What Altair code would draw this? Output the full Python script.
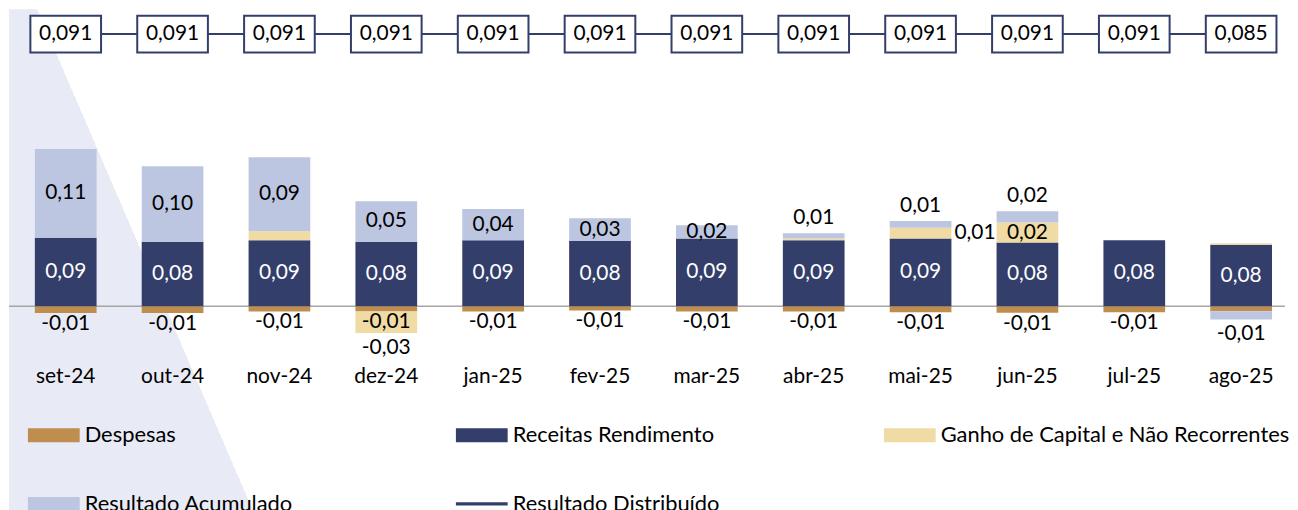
import altair as alt
import pandas as pd

# ---------------- data ----------------
categorias = ["set-24", "out-24", "nov-24", "dez-24", "jan-25", "fev-25",
              "mar-25", "abr-25", "mai-25", "jun-25", "jul-25", "ago-25"]
despesas = [-0.0087, -0.0087, -0.0066, -0.0066, -0.0066, -0.0054,
            -0.0066, -0.0066, -0.0077, -0.0084, -0.0077, -0.0064]
receitas = [0.088, 0.083, 0.085, 0.083, 0.085, 0.084,
            0.087, 0.085, 0.087, 0.082, 0.085, 0.079]
ganho = [0.0, 0.0, 0.0115, -0.0276, 0.0, 0.0,
         0.0, 0.002, 0.014, 0.0256, 0.0, 0.002]
acumulado = [0.114, 0.097, 0.095, 0.052, 0.040, 0.029,
             0.017, 0.007, 0.0086, 0.0146, 0.0, -0.0106]
distribuido = [0.091, 0.091, 0.091, 0.091, 0.091, 0.091,
               0.091, 0.091, 0.091, 0.091, 0.091, 0.085]

rot_despesas = ["-0,01", "-0,01", "-0,01", "-0,01", "-0,01", "-0,01",
                "-0,01", "-0,01", "-0,01", "-0,01", "-0,01", ""]
rot_receitas = ["0,09", "0,08", "0,09", "0,08", "0,09", "0,08",
                "0,09", "0,09", "0,09", "0,08", "0,08", "0,08"]
rot_ganho = ["", "", "", "-0,03", "", "",
             "", "", "0,01", "0,02", "", ""]
rot_acumulado = ["0,11", "0,10", "0,09", "0,05", "0,04", "0,03",
                 "0,02", "0,01", "0,01", "0,02", "", "-0,01"]

series = ["Despesas", "Receitas Rendimento", "Ganho de Capital e Não Recorrentes",
          "Resultado Acumulado", "Resultado Distribuído"]
cores = ["#BF8D4E", "#333E6B", "#F1DBA4", "#BCC6E0", "#333E6B"]

# ---------------- styling ----------------
NAVY = "#333E6B"
LAV = "#E8EBF5"
FONT = "Lato"
FS = 21
W = 1282
H_TOP = 50
H_BOT = 462

valores = dict(zip(series[:4], [despesas, receitas, ganho, acumulado]))
rotulos = dict(zip(series[:4], [rot_despesas, rot_receitas, rot_ganho, rot_acumulado]))

rows, labs = [], []
for i, cat in enumerate(categorias):
    pos = neg = 0.0
    for s in series[:4]:
        v = valores[s][i]
        if v == 0:
            continue
        if v > 0:
            y0, y1 = pos, pos + v
            pos = y1
        else:
            y0, y1 = neg, neg + v
            neg = y1
        rows.append(dict(cat=cat, serie=s, y0=y0, y1=y1))
        txt = rotulos[s][i]
        if not txt:
            continue
        lo, hi = min(y0, y1), max(y0, y1)
        mid = (lo + hi) / 2
        if v < 0:
            tipo, ly = ("below_d" if s == series[0] else "below"), lo
        elif s == series[1]:
            tipo, ly = "inside_w", mid
        elif s == series[2]:
            tipo, ly = ("inside", mid) if v >= 0.02 else ("right", mid)
        else:
            tipo, ly = ("inside", mid) if v >= 0.016 else ("above", hi)
        labs.append(dict(cat=cat, texto=txt, ly=ly, tipo=tipo))

df = pd.DataFrame(rows)
lab_df = pd.DataFrame(labs)
top_df = pd.DataFrame({
    "cat": categorias,
    "valor": distribuido,
    "texto": [f"{v:.3f}".replace(".", ",") for v in distribuido],
    "serie": series[4],
})

x_scale = alt.Scale(type="band", paddingInner=0.4225, paddingOuter=0.182, align=0.665)
y_scale = alt.Scale(domain=[-0.273, 0.3178], nice=False, zero=False)
x_axis = alt.Axis(title=None, domain=False, ticks=False, tickSize=0, labelPadding=0,
                  labelAngle=0, labelFontSize=FS, labelColor="black", labelFont=FONT,
                  offset=-154, zindex=2)


def grad(ax, ay, nx, ny, s=0.05):
    return {"gradient": "linear",
            "x1": ax - nx * s, "y1": ay - ny * s,
            "x2": ax + nx * s, "y2": ay + ny * s,
            "stops": [{"offset": 0, "color": LAV}, {"offset": 0.5, "color": LAV},
                      {"offset": 0.5, "color": "white"}, {"offset": 1, "color": "white"}]}


one = pd.DataFrame({"d": [0]})


def bg(g):
    return alt.Chart(one).mark_rect(fill=g, strokeWidth=0).encode(
        x=alt.value(0), x2=alt.value("width"), y=alt.value(0), y2=alt.value("height"))


X = alt.X("cat:N", sort=categorias, scale=x_scale, axis=x_axis)
Xn = alt.X("cat:N", sort=categorias, scale=x_scale, axis=None)

rect_path = "M-1,-0.27L1,-0.27L1,0.27L-1,0.27Z"
line_path = "M-1,-0.06L1,-0.06L1,0.06L-1,0.06Z"
legend = alt.Legend(
    title=None, orient="none", legendX=19, legendY=402, columns=3, direction="horizontal",
    columnPadding=22, rowPadding=32, gridAlign="all", labelLimit=600,
    labelFont=FONT, labelFontSize=22, labelColor="black", labelOffset=5,
    symbolSize=2704, symbolStrokeWidth=0, padding=0,
    symbolType={"expr": f"datum.value === '{series[4]}' ? '{line_path}' : '{rect_path}'"},
)

bars = alt.Chart(df).mark_bar().encode(
    x=X,
    y=alt.Y("y0:Q", scale=y_scale, axis=None),
    y2="y1:Q",
    color=alt.Color("serie:N", scale=alt.Scale(domain=series, range=cores), legend=legend),
)

zero_line = alt.Chart(pd.DataFrame({"zero": [0.0]})).mark_rule(
    color="#A6A6A6", strokeWidth=1.5).encode(y=alt.Y("zero:Q", scale=y_scale, axis=None))


def txt_layer(tipo, **kw):
    return alt.Chart(lab_df).transform_filter(alt.datum.tipo == tipo).mark_text(
        font=FONT, fontSize=FS, **kw).encode(
        x=X, y=alt.Y("ly:Q", scale=y_scale, axis=None), text="texto:N")


t_in_w = txt_layer("inside_w", color="white", baseline="middle")
t_in = txt_layer("inside", color="black", baseline="middle")
t_above = txt_layer("above", color="black", baseline="bottom", dy=-5)
t_below_d = txt_layer("below_d", color="black", baseline="top", dy=0)
t_below = txt_layer("below", color="black", baseline="top", dy=4)
t_right = txt_layer("right", color="black", baseline="middle", align="left", dx=34)

# background triangle edges (normalized view coordinates)
g_bot = grad(0.0389, 0.0, 1.0, -0.155)
g_top = grad(0.0221, 0.0, 1.0, -0.0168)

bottom = alt.layer(bg(g_bot), zero_line, bars, t_in_w, t_in, t_above, t_below_d, t_below,
                   t_right).properties(width=W, height=H_BOT)

top_line = alt.Chart(top_df).mark_line(color=NAVY, strokeWidth=2).encode(
    x=Xn, y=alt.Y("serie:N", axis=None))
top_box = alt.Chart(top_df).mark_point(
    shape="M-1,-0.52L1,-0.52L1,0.52L-1,0.52Z", size=5041, filled=True,
    fill="white", stroke=NAVY, strokeWidth=2, opacity=1).encode(
    x=Xn, y=alt.Y("serie:N", axis=None))
top_txt = alt.Chart(top_df).mark_text(font=FONT, fontSize=FS, color="black").encode(
    x=Xn, y=alt.Y("serie:N", axis=None), text="texto:N")
top = alt.layer(bg(g_top), top_line, top_box, top_txt).properties(width=W, height=H_TOP)

chart = (
    alt.vconcat(top, bottom, spacing=0)
    .properties(padding=0)
    .configure(font=FONT)
    .configure_view(strokeWidth=0, stroke="transparent")
)

chart.save("out.html", embed_options={"renderer": "svg", "actions": False})
